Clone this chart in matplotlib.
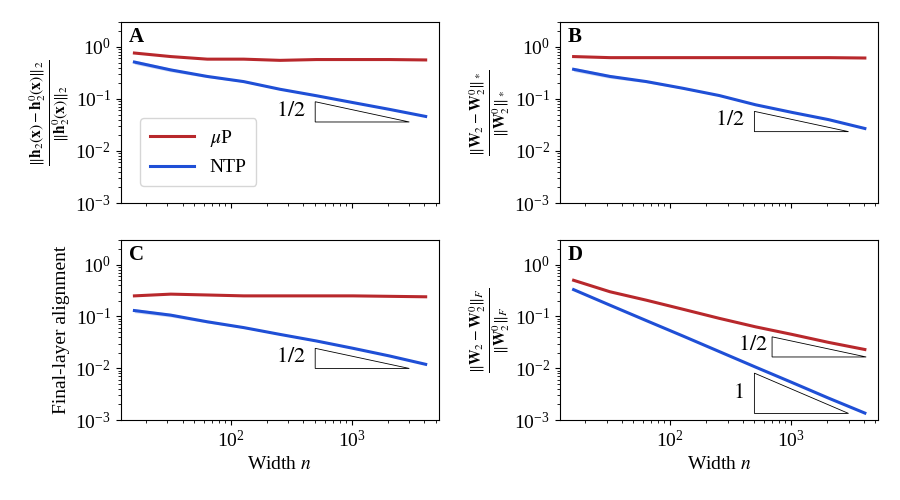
import numpy as np
import matplotlib
matplotlib.use("Agg")
import matplotlib.pyplot as plt
from matplotlib.patches import Polygon

plt.rcParams['font.family'] = ['Liberation Serif', 'DejaVu Serif']
plt.rcParams['mathtext.fontset'] = 'stix'
plt.rcParams['font.size'] = 13

widths = [16, 32, 64, 128, 256, 512, 1024, 2048, 4096]

# panel A: relative change of hidden features
a_mup = [0.76, 0.65, 0.58, 0.58, 0.55, 0.57, 0.57, 0.57, 0.56]
a_ntp = [0.51, 0.36, 0.27, 0.215, 0.153, 0.115, 0.085, 0.063, 0.046]
# panel B: nuclear norm change
b_mup = [0.65, 0.62, 0.62, 0.62, 0.62, 0.62, 0.62, 0.62, 0.61]
b_ntp = [0.37, 0.27, 0.215, 0.16, 0.116, 0.077, 0.055, 0.040, 0.027]
# panel C: final-layer alignment
c_mup = [0.25, 0.27, 0.26, 0.25, 0.25, 0.25, 0.25, 0.245, 0.24]
c_ntp = [0.13, 0.106, 0.079, 0.061, 0.045, 0.0336, 0.0243, 0.0173, 0.0119]
# panel D: Frobenius norm change
d_mup = [0.50, 0.30, 0.206, 0.138, 0.092, 0.063, 0.045, 0.0316, 0.023]
d_ntp = [0.33, 0.165, 0.083, 0.042, 0.021, 0.0105, 0.0053, 0.00265, 0.00136]
# relative spread of the NTP runs (shaded band)
ntp_spread = [0.09, 0.08, 0.05, 0.03, 0.02, 0.02, 0.015, 0.01, 0.01]

red = '#b8282c'
blue = '#1f4fd6'

labels = {
    'A': r'$\frac{\|\mathbf{h}_2(\mathbf{x})-\mathbf{h}_2^0(\mathbf{x})\|_2}{\|\mathbf{h}_2^0(\mathbf{x})\|_2}$',
    'B': r'$\frac{\|\mathbf{W}_2-\mathbf{W}_2^0\|_*}{\|\mathbf{W}_2^0\|_*}$',
    'C': 'Final-layer alignment',
    'D': r'$\frac{\|\mathbf{W}_2-\mathbf{W}_2^0\|_F}{\|\mathbf{W}_2^0\|_F}$',
}

fig = plt.figure(figsize=(9, 5), dpi=100)
boxes = {
    'A': [0.134, 0.594, 0.354, 0.362],
    'B': [0.622, 0.594, 0.354, 0.362],
    'C': [0.134, 0.160, 0.354, 0.360],
    'D': [0.622, 0.160, 0.354, 0.360],
}
data = {'A': (a_mup, a_ntp), 'B': (b_mup, b_ntp), 'C': (c_mup, c_ntp), 'D': (d_mup, d_ntp)}


def slope_triangle(ax, x0, x1, ybot, slope, text, tx, ty):
    ytop = ybot * (x1 / x0) ** slope
    tri = Polygon([[x0, ytop], [x0, ybot], [x1, ybot]], closed=True,
                  fill=False, edgecolor='black', linewidth=0.6)
    ax.add_patch(tri)
    ax.text(tx, ty, text, ha='right', va='center', fontsize=16)


axes = {}
for key in ['A', 'B', 'C', 'D']:
    ax = fig.add_axes(boxes[key])
    axes[key] = ax
    mup, ntp = data[key]
    w = np.array(widths)
    ntp = np.array(ntp)
    if key != 'D':
        sp = np.array(ntp_spread)
        ax.fill_between(w, ntp * (1 - sp), ntp * (1 + sp), color=blue, alpha=0.2, lw=0)
    ax.plot(w, mup, color=red, lw=2.2, label=r'$\mu$P')
    ax.plot(w, ntp, color=blue, lw=2.2, label='NTP')
    ax.set_xscale('log')
    ax.set_yscale('log')
    ax.set_ylim(1e-3, 3)
    ax.set_xlim(12.3, 5300)
    ax.set_yticks([1e-3, 1e-2, 1e-1, 1e0])
    ax.set_xticks([100, 1000])
    ax.tick_params(which='both', direction='out', labelsize=14)
    ax.text(0.025, 0.97, key, transform=ax.transAxes, fontweight='bold',
            fontsize=15, va='top', ha='left')
    if key in ('A', 'B'):
        ax.tick_params(axis='x', labelbottom=False)
    else:
        ax.set_xlabel(r'Width $n$', fontsize=14)
    if key == 'C':
        ax.set_ylabel(labels[key], fontsize=14, labelpad=4)
    else:
        ax.set_ylabel(labels[key], fontsize=16, labelpad=2)

slope_triangle(axes['A'], 500, 3000, 0.036, 0.5, '$1/2$', 420, 0.058)
slope_triangle(axes['B'], 500, 3000, 0.0235, 0.5, '$1/2$', 420, 0.038)
slope_triangle(axes['C'], 500, 3000, 0.0099, 0.5, '$1/2$', 420, 0.016)
slope_triangle(axes['D'], 700, 4200, 0.0165, 0.5, '$1/2$', 640, 0.027)
slope_triangle(axes['D'], 500, 3000, 0.00134, 1.0, '$1$', 410, 0.0033)

axes['A'].legend(loc='lower left', bbox_to_anchor=(0.03, 0.04), fontsize=14,
                 handlelength=2.3, borderpad=0.5, labelspacing=0.5,
                 handletextpad=0.8, framealpha=0.8, edgecolor='#cccccc')

fig.savefig('out.png', dpi=100)
